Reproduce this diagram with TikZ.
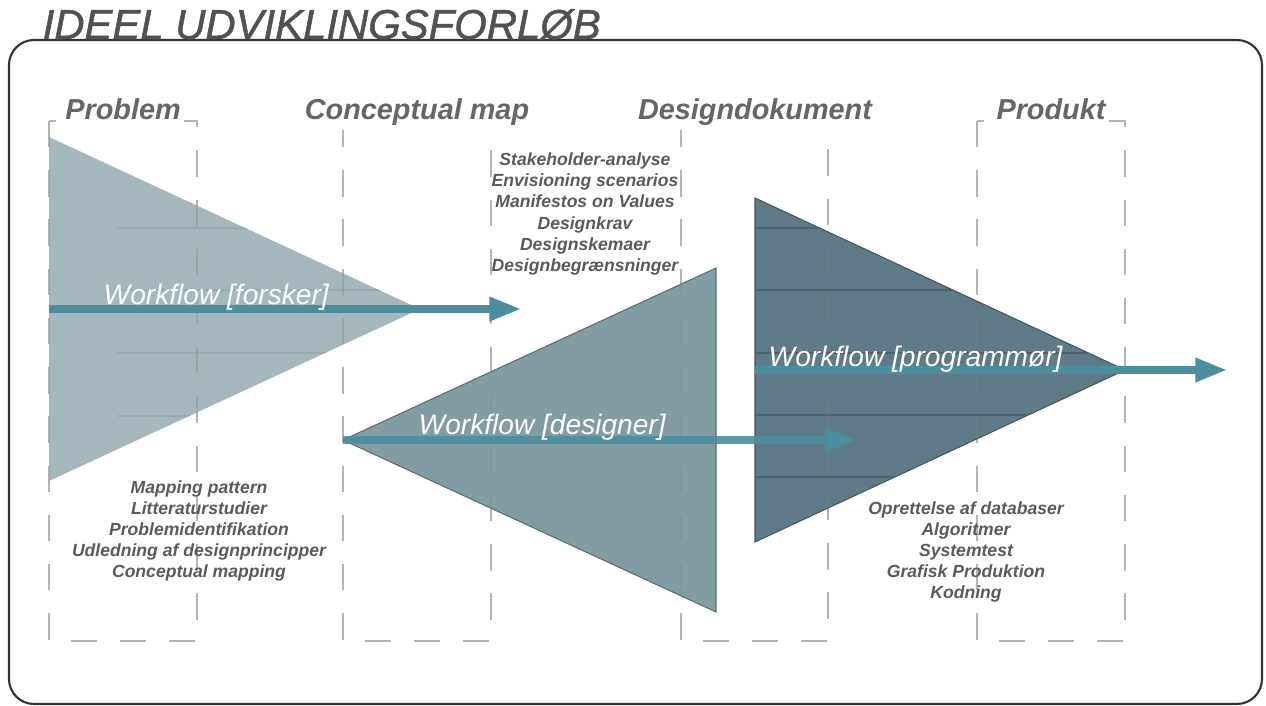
\documentclass[tikz,border=0pt]{standalone}
\usepackage{fontspec}
\setmainfont{Liberation Sans}
\newfontfamily\titlefont{Liberation Sans}[FakeBold=1.2]
\usetikzlibrary{positioning,arrows.meta}

\definecolor{lightfunnel}{HTML}{A4B7BC}
\definecolor{midfunnel}{HTML}{819CA2}
\definecolor{darkfunnel}{HTML}{5F7B87}
\definecolor{flowteal}{HTML}{4A8E9F}
\definecolor{boxgray}{HTML}{B4B4B4}
\definecolor{labelgray}{HTML}{666666}
\definecolor{listgray}{HTML}{5A5A5A}
\definecolor{framecol}{HTML}{333333}

\begin{document}
\begin{tikzpicture}[x=0.01cm,y=-0.01cm,
  phase/.style={draw=boxgray,line width=.45pt,dash pattern=on 7.5pt off 6.5pt},
  phaselabel/.style={anchor=base,fill=white,inner sep=1pt,text depth=2pt,text=labelgray,
    font=\bfseries\itshape\fontsize{8.2}{10}\selectfont},
  tasks/.style={align=center,text=listgray,inner sep=0pt,
    font=\bfseries\itshape\fontsize{5}{6}\selectfont},
  flow/.style={draw=flowteal,line width=2pt,-{Triangle[length=9pt,width=6.5pt]}},
  flowlabel/.style={anchor=base west,inner sep=0pt,text=white,
    font=\itshape\fontsize{8}{10}\selectfont}]
  \useasboundingbox (0,0) rectangle (1266,706);

  % frame and heading
  \draw[framecol,line width=.6pt,rounded corners=0.25cm] (9,40) rectangle (1262,704);
  \node[anchor=base west,inner sep=0pt,text=listgray!90!black,
    font=\titlefont\itshape\fontsize{11.9}{14}\selectfont] (title) at (42,39) {IDEEL UDVIKLINGSFORLØB};

  % phases
  \draw[phase] (49,121) rectangle (197,641);
  \draw[phase] (343,121) rectangle (491,641);
  \draw[phase] (681,121) rectangle (828,641);
  \draw[phase] (977,121) rectangle (1125,641);

  % funnels
  \coordinate (forskerTop) at (49,137);
  \coordinate (forskerBot) at (49,481);
  \coordinate (forskerTip) at (420,309);
  \coordinate (designerTip) at (343,440);
  \coordinate (designerTop) at (716,268);
  \coordinate (designerBot) at (716,612);
  \coordinate (progTop) at (755,198);
  \coordinate (progBot) at (755,542);
  \coordinate (progTip) at (1125,370);

  \fill[lightfunnel] (forskerTop) -- (forskerTip) -- (forskerBot) -- cycle;
  \filldraw[fill=midfunnel,draw=midfunnel!70!black,line width=.3pt]
    (designerTip) -- (designerTop) -- (designerBot) -- cycle;
  \filldraw[fill=darkfunnel,draw=darkfunnel!70!black,line width=.3pt]
    (progTop) -- (progTip) -- (progBot) -- cycle;

  \begin{scope}
    \clip (forskerTop) -- (forskerTip) -- (forskerBot) -- cycle;
    \draw[lightfunnel!93!black,line width=.3pt] (117,228) -- (420,228) (117,290) -- (420,290)
      (117,353) -- (420,353) (117,416) -- (420,416);
  \end{scope}
  \begin{scope}
    \clip (progTop) -- (progTip) -- (progBot) -- cycle;
    \draw[darkfunnel!80!black,line width=.4pt] (755,228) -- (1125,228) (755,290) -- (1125,290)
      (755,353) -- (1125,353) (755,415) -- (1125,415) (755,477) -- (1125,477);
  \end{scope}

  % dashes showing through
  \begin{scope}[draw opacity=.3]
    \clip (forskerTop) -- (forskerTip) -- (forskerBot) -- cycle
      (designerTip) -- (designerTop) -- (designerBot) -- cycle
      (progTop) -- (progTip) -- (progBot) -- cycle;
    \draw[phase,draw=gray] (49,121) rectangle (197,641);
    \draw[phase,draw=gray] (343,121) rectangle (491,641);
    \draw[phase,draw=gray] (681,121) rectangle (828,641);
    \draw[phase,draw=gray] (977,121) rectangle (1125,641);
  \end{scope}

  \node[phaselabel] (problem) at (123,119) {Problem};
  \node[phaselabel] (concept) at (417,119) {Conceptual map};
  \node[phaselabel] (designdoc) at (755,119) {Designdokument};
  \node[phaselabel] (produkt) at (1051,119) {Produkt};

  % workflows
  \coordinate (forskerStart) at (49,309);
  \coordinate (forskerEnd) at (521,309);
  \coordinate (designerEnd) at (857,440);
  \coordinate (progStart) at (755,370);
  \coordinate (progEnd) at (1227,370);
  \draw[flow] (forskerStart) -- (forskerEnd);
  \draw[flow,draw opacity=.9] (designerTip) -- (designerEnd);
  \draw[flow] (progStart) -- (progEnd);
  \node[flowlabel] (forsker) at (103,304) {Workflow [forsker]};
  \node[flowlabel] (designer) at (418,434) {Workflow [designer]};
  \node[flowlabel] (programmer) at (768,366) {Workflow [programmør]};

  % methods
  \node[tasks] (designtasks) at (585,214) {Stakeholder-analyse\\Envisioning scenarios\\Manifestos on Values\\Designkrav\\Designskemaer\\Designbegrænsninger};
  \node[tasks] (problemtasks) at (199,531) {Mapping pattern\\Litteraturstudier\\Problemidentifikation\\Udledning af designprincipper\\Conceptual mapping};
  \node[tasks] (producttasks) at (966,552) {Oprettelse af databaser\\Algoritmer\\Systemtest\\Grafisk Produktion\\Kodning};
\end{tikzpicture}
\end{document}
